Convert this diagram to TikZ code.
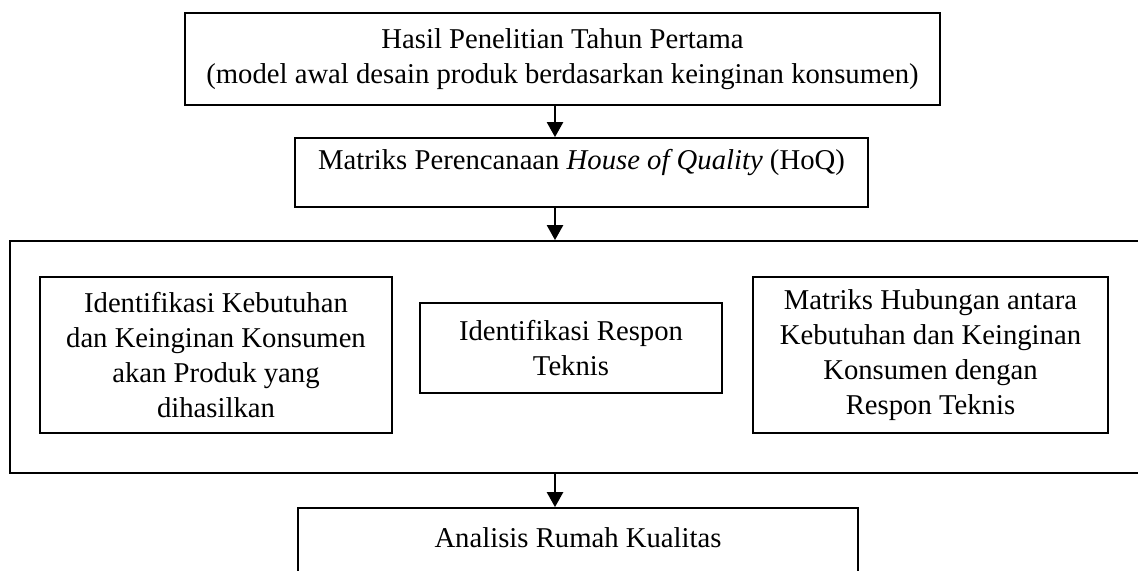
\documentclass[tikz,border=0pt]{standalone}
\usepackage{fontspec}
\setmainfont{Liberation Serif}
\usetikzlibrary{arrows.meta, positioning}

\begin{document}
\begin{tikzpicture}[
  box/.style={draw, line width=1pt, align=center, inner sep=0pt, font=\fontsize{14.35}{17.5}\selectfont},
  arrow/.style={-{Triangle[length=7.5pt, width=8pt]}, line width=1.2pt}
]
\useasboundingbox (0,0) rectangle (20,10.02);

% Top boxes
\node[box, minimum width=13.27cm, minimum height=1.617cm] (hasil) at (9.886,8.98) {Hasil Penelitian Tahun Pertama\\(model awal desain produk berdasarkan keinginan konsumen)};
\node[box, anchor=north, minimum width=10.07cm, text height=15.5pt, text depth=19pt] (hoq) at (10.22,7.610) {Matriks Perencanaan \textit{House of Quality} (HoQ)};

% HoQ panel
\node[draw, line width=1pt, minimum width=20.04cm, minimum height=4.077cm, inner sep=0pt] (panel) at (10.19,3.744) {};
\node[box, minimum width=6.186cm, minimum height=2.742cm] (kebutuhan) at (3.796,3.779) {Identifikasi Kebutuhan\\dan Keinginan Konsumen\\akan Produk yang\\dihasilkan};
\node[box, minimum width=5.308cm, minimum height=1.582cm] (respon) at (10.035,3.902) {Identifikasi Respon\\Teknis};
\node[box, minimum width=6.239cm, minimum height=2.742cm] (hubungan) at (16.353,3.779) {Matriks Hubungan antara\\Kebutuhan dan Keinginan\\Konsumen dengan\\Respon Teknis};

% Bottom box
\node[box, anchor=north, minimum width=9.842cm, text height=19.5pt, text depth=40pt] (analisis) at (10.158,1.107) {Analisis Rumah Kualitas};

% Arrows
\coordinate (axis) at (9.754,0);
\draw[arrow] (hasil.south -| axis) -- (hoq.north -| axis);
\draw[arrow] (hoq.south -| axis) -- (panel.north -| axis);
\draw[arrow] (panel.south -| axis) -- (analisis.north -| axis);

\end{tikzpicture}
\end{document}
